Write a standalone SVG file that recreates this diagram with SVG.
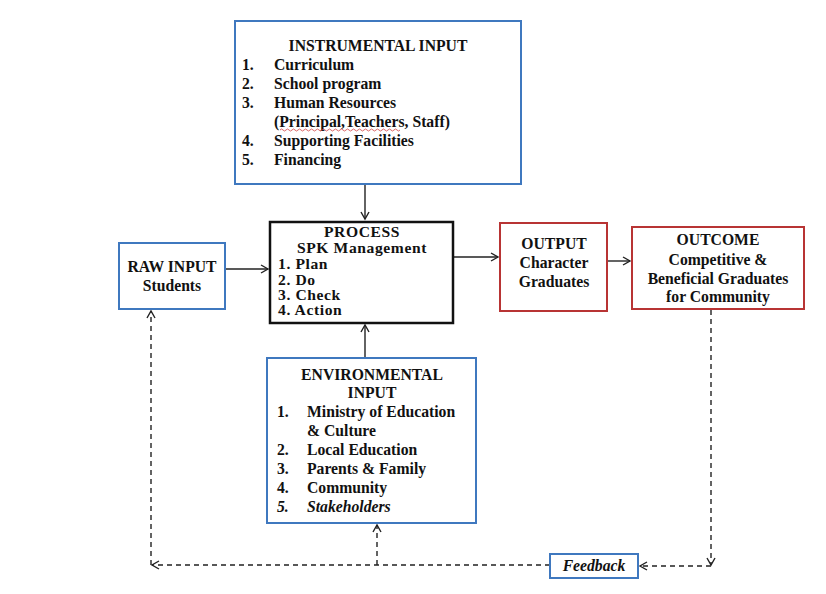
<svg xmlns="http://www.w3.org/2000/svg" width="826" height="594" viewBox="0 0 826 594">
<defs>
<style>
.t{font-family:"Liberation Serif","Times New Roman",serif;font-weight:bold;fill:#111;}
.s15{font-size:15.7px;}
.s16{font-size:15.6px;letter-spacing:0.6px;}
.c{text-anchor:middle;}
.it{font-style:italic;}
.blue{fill:#fff;stroke:#3f78bf;stroke-width:2;}
.red{fill:#fff;stroke:#b83434;stroke-width:2;}
.blk{fill:#fff;stroke:#111;stroke-width:2.5;}
.ln{fill:none;stroke:#222;stroke-width:1.4;}
.dash{fill:none;stroke:#222;stroke-width:1.4;stroke-dasharray:5 4;}
</style>
<marker id="ah" markerWidth="10" markerHeight="10" refX="8" refY="5" orient="auto" markerUnits="userSpaceOnUse">
<path d="M1,1 L8,5 L1,9" fill="none" stroke="#222" stroke-width="1.4"/>
</marker>
</defs>
<rect width="826" height="594" fill="#fff"/>

<g id="connectors">
<line class="ln" x1="365" y1="184" x2="365" y2="219" marker-end="url(#ah)"/>
<line class="ln" x1="365" y1="358" x2="365" y2="325" marker-end="url(#ah)"/>
<line class="ln" x1="225" y1="269" x2="268" y2="269" marker-end="url(#ah)"/>
<line class="ln" x1="453" y1="257" x2="498" y2="257" marker-end="url(#ah)"/>
<line class="ln" x1="607" y1="261" x2="630" y2="261" marker-end="url(#ah)"/>
<line class="dash" x1="711" y1="310" x2="711" y2="565" marker-end="url(#ah)"/>
<line class="dash" x1="711" y1="566" x2="640" y2="566" marker-end="url(#ah)"/>
<line class="dash" x1="550" y1="565" x2="152" y2="565" marker-end="url(#ah)"/>
<line class="dash" x1="151" y1="565" x2="151" y2="311" marker-end="url(#ah)"/>
<line class="dash" x1="377" y1="565" x2="377" y2="525" marker-end="url(#ah)"/>
</g>

<g id="instrumental">
<rect class="blue" x="235" y="21" width="286" height="163"/>
<text class="t s15 c" x="378" y="51">INSTRUMENTAL INPUT</text>
<text class="t s15" x="242" y="70">1.</text><text class="t s15" x="274" y="70">Curriculum</text>
<text class="t s15" x="242" y="89">2.</text><text class="t s15" x="274" y="89">School program</text>
<text class="t s15" x="242" y="108">3.</text><text class="t s15" x="274" y="108">Human Resources</text>
<text class="t s15" x="274" y="127">(Principal,Teachers, Staff)</text>
<path d="M280,130 q1.5,-2 3,0 t3,0 t3,0 t3,0 t3,0 t3,0 t3,0 t3,0 t3,0 t3,0 t3,0 t3,0 t3,0 t3,0 t3,0 t3,0 t3,0 t3,0 t3,0 t3,0 t3,0 t3,0 t3,0 t3,0 t3,0 t3,0 t3,0 t3,0 t3,0 t3,0 t3,0 t3,0 t3,0 t3,0 t3,0 t3,0 t3,0 t3,0 t3,0 t3,0" fill="none" stroke="#d04040" stroke-width="0.8"/>
<text class="t s15" x="242" y="146">4.</text><text class="t s15" x="274" y="146">Supporting Facilities</text>
<text class="t s15" x="242" y="165">5.</text><text class="t s15" x="274" y="165">Financing</text>
</g>

<g id="raw-input">
<rect class="blue" x="119" y="243" width="106" height="66"/>
<text class="t s15 c" x="172" y="272">RAW INPUT</text>
<text class="t s15 c" x="172" y="291">Students</text>
</g>

<g id="process">
<rect class="blk" x="270" y="222" width="183" height="101"/>
<text class="t s16 c" x="362" y="237">PROCESS</text>
<text class="t s16 c" x="362" y="253">SPK Management</text>
<text class="t s16" x="278" y="269">1. Plan</text>
<text class="t s16" x="278" y="285">2. Do</text>
<text class="t s16" x="278" y="300">3. Check</text>
<text class="t s16" x="278" y="315">4. Action</text>
</g>

<g id="output">
<rect class="red" x="500" y="223" width="107" height="88"/>
<text class="t s15 c" x="554" y="249">OUTPUT</text>
<text class="t s15 c" x="554" y="268">Character</text>
<text class="t s15 c" x="554" y="287">Graduates</text>
</g>

<g id="outcome">
<rect class="red" x="632" y="227" width="172" height="82"/>
<text class="t s15 c" x="718" y="245">OUTCOME</text>
<text class="t s15 c" x="718" y="265">Competitive &amp;</text>
<text class="t s15 c" x="718" y="284">Beneficial Graduates</text>
<text class="t s15 c" x="718" y="302">for Community</text>
</g>

<g id="environmental">
<rect class="blue" x="267" y="358" width="209" height="165"/>
<text class="t s15 c" x="372" y="380">ENVIRONMENTAL</text>
<text class="t s15 c" x="372" y="398">INPUT</text>
<text class="t s15" x="277" y="417">1.</text><text class="t s15" x="307" y="417">Ministry of Education</text>
<text class="t s15" x="307" y="436">&amp; Culture</text>
<text class="t s15" x="277" y="455">2.</text><text class="t s15" x="307" y="455">Local Education</text>
<text class="t s15" x="277" y="474">3.</text><text class="t s15" x="307" y="474">Parents &amp; Family</text>
<text class="t s15" x="277" y="493">4.</text><text class="t s15" x="307" y="493">Community</text>
<text class="t s15 it" x="277" y="512">5.</text><text class="t s15 it" x="307" y="512">Stakeholders</text>
</g>

<g id="feedback">
<rect class="blue" x="550" y="554" width="88" height="24"/>
<text class="t s15 c it" x="594" y="571">Feedback</text>
</g>
</svg>
